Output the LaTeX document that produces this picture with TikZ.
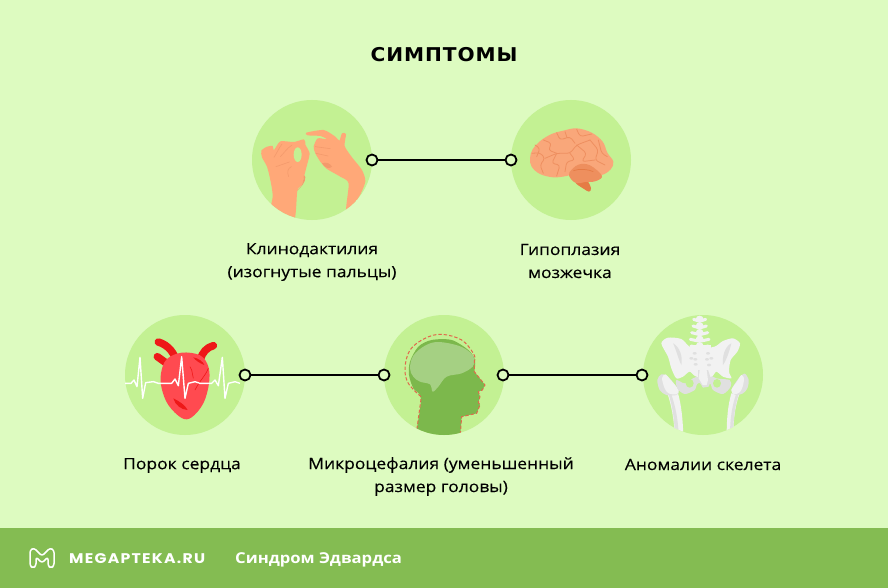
\documentclass[tikz,border=0pt]{standalone}
\usepackage{fontspec}
\setmainfont[FakeStretch=1.12,FakeBold=0.25]{Open Sans}
\newfontfamily\bandfont[FakeStretch=1.11]{Open Sans}
\newfontfamily\titlefont[FakeStretch=1.06,LetterSpace=5]{DejaVu Sans}
\newfontfamily\logofont[FakeStretch=1.12,LetterSpace=9]{Poppins}
\definecolor{bgcol}{HTML}{DDFBC0}
\definecolor{blobcol}{HTML}{C3F193}
\definecolor{bandcol}{HTML}{84BC52}
\definecolor{skincol}{HTML}{FFA878}
\definecolor{skindark}{HTML}{F39A6C}
\definecolor{braincol}{HTML}{F9A77A}
\definecolor{brainline}{HTML}{EE8F60}
\definecolor{cerebcol}{HTML}{EE8F5E}
\definecolor{stemcol}{HTML}{E57B45}
\definecolor{heartcol}{HTML}{FF4A50}
\definecolor{vesselcol}{HTML}{EE1818}
\definecolor{headcol}{HTML}{7CB84C}
\definecolor{headlight}{HTML}{A5D083}
\definecolor{dashcol}{HTML}{E0694C}
\definecolor{bonecol}{HTML}{F2F2F2}
\definecolor{bonedark}{HTML}{E0E0E0}
\tikzset{
 blob/.style={circle, fill=blobcol, minimum size=120pt, inner sep=0pt},
 ringdot/.style={circle, draw=black, fill=bgcol, line width=1.8pt, minimum size=11pt, inner sep=0pt},
 link/.style={draw=black, line width=1.8pt},
 caption/.style={font=\fontsize{15.6}{23}\selectfont, align=center, text=black},
 furrow/.style={draw=brainline, line width=.8pt, line cap=round, rounded corners=3pt},
 crease/.style={draw=skindark, line width=.6pt, line cap=round},
 vessel/.style={draw=vesselcol, line width=7.5pt, line cap=round, line join=round},
 cutline/.style={draw=dashcol, line width=1pt, dash pattern=on 3.4pt off 2pt}
}
\begin{document}
\begin{tikzpicture}[x=1pt, y=-1pt, line join=round]
 \useasboundingbox (0,0) rectangle (888,588);
 \fill[bgcol] (0,0) rectangle (888,588);
 \fill[bandcol] (0,528) rectangle (888,588);
 \node (title) at (444,55) {\titlefont\fontsize{19}{24}\selectfont\bfseries СИМПТОМЫ};
 \foreach \n/\x/\y in {hands/312/160, brain/571/160, heart/185/375, head/444/375, pelvis/703/375}{
 \node[blob] (\n) at (\x,\y) {};}
 % hands
 \begin{scope}
 \clip (hands.center) circle (60);
 \begin{scope}[shift={(252,120)}, scale=1/3]
 \fill[skincol] plot[smooth cycle, tension=.4] coordinates {(50,310) (62,230) (55,180) (45,140) (30,112) (28,92) (45,80) (62,78) (66,90) (85,64) (125,66) (155,58) (160,68) (160,74) (173,100) (165,135) (156,170) (150,195) (136,212) (124,310)};
 \fill[blobcol] (137,104) ellipse (12 and 22);
 \fill[skincol] plot[smooth cycle, tension=.4] coordinates {(163,38) (215,30) (250,50) (262,62) (270,40) (282,42) (278,78) (300,112) (330,150) (340,185) (320,232) (283,270) (290,190) (265,170) (225,147) (205,125) (190,100) (185,80) (197,55) (225,58) (205,48) (167,46)};
 \draw[crease] (72,140) -- (112,126);
 \draw[crease] (110,170) .. controls (104,155) and (108,145) .. (118,140);
 \draw[crease] (90,72) .. controls (80,85) and (74,100) .. (66,112);
 \draw[crease] (120,75) .. controls (105,85) and (95,100) .. (85,110);
 \draw[crease] (190,80) -- (235,86);
 \draw[crease] (192,100) -- (228,108);
 \fill[skindark] (210,130) .. controls (222,125) and (235,130) .. (240,140) .. controls (232,148) and (220,145) .. (210,130);
 \fill[skindark] (150,195) .. controls (155,180) and (155,170) .. (156,165) .. controls (165,170) and (160,190) .. (136,212) -- cycle;
 \end{scope}
 \end{scope}
 % brain
 \begin{scope}[shift={(520,120)}, scale=1/3]
 \fill[stemcol] plot[smooth cycle, tension=.5] coordinates {(170,175) (200,180) (213,205) (207,215) (192,207) (168,190)};
 \fill[braincol] plot[smooth cycle, tension=.6] coordinates {(30,115) (38,88) (62,62) (95,42) (130,32) (170,25) (215,38) (248,65) (262,98) (280,125) (272,148) (245,165) (210,160) (170,160) (140,168) (100,172) (60,162) (35,140)};
 \fill[cerebcol] plot[smooth cycle, tension=.6] coordinates {(148,158) (175,134) (210,136) (246,168) (225,184) (195,186) (170,190) (152,176)};
 \draw[furrow] (36,100) -- (60,98) -- (75,115) -- (60,135) -- (70,160);
 \draw[furrow] (75,115) -- (110,100) -- (150,100) -- (170,75) -- (210,60);
 \draw[furrow] (70,60) -- (95,70) -- (85,90) -- (110,100);
 \draw[furrow] (110,38) -- (120,60) -- (150,50) -- (165,70);
 \draw[furrow] (170,28) -- (180,50) -- (215,42);
 \draw[furrow] (110,100) -- (95,130) -- (120,135) -- (110,168);
 \draw[furrow] (150,100) -- (165,120) -- (140,125) -- (135,155);
 \draw[furrow] (170,75) -- (200,100) -- (185,125) -- (225,120);
 \draw[furrow] (210,60) -- (235,90) -- (225,120) -- (255,135);
 \draw[furrow] (235,60) -- (245,100) -- (262,110);
 \draw[furrow] (45,75) -- (60,85) -- (50,110);
 \draw[furrow] (135,35) -- (140,50);
 \draw[stemcol, line width=.7pt] (160,152) .. controls (180,145) and (205,148) .. (220,155);
 \end{scope}
 % heart
 \begin{scope}[shift={(125,330)}, scale=1/3]
 \draw[vessel] (100,36) .. controls (130,45) and (150,70) .. (155,100);
 \draw[vessel] (97,80) -- (128,102);
 \draw[vessel] (265,47) .. controls (245,52) and (232,68) .. (226,88);
 \fill[heartcol] plot[smooth cycle, tension=.6] coordinates {(108,130) (125,88) (170,68) (225,76) (250,110) (252,160) (235,220) (200,262) (170,264) (130,225) (110,175)};
 \fill[vesselcol] (205,82) .. controls (220,85) and (235,95) .. (238,105) .. controls (225,100) and (212,92) .. (205,82);
 \fill[vesselcol] (145,205) .. controls (165,215) and (180,225) .. (188,240) .. controls (170,240) and (150,225) .. (145,205);
 \draw[vesselcol, line width=.6pt] (250,115) .. controls (240,140) and (225,150) .. (210,180);
 \draw[vesselcol, line width=.6pt] (195,110) .. controls (205,125) and (200,135) .. (205,145);
 \draw[white, line width=1.4pt] plot coordinates {(0,160) (18,160) (27,150) (36,170) (45,82) (53,205) (62,158) (85,155) (100,160) (140,160) (150,147) (160,167) (170,80) (180,205) (190,160) (210,155) (225,160) (260,160) (270,150) (280,167) (292,82) (300,205) (310,160) (330,155) (345,160)};
 \end{scope}
 % head
 \begin{scope}
 \clip (head.center) circle (60);
 \begin{scope}[shift={(395,325)}, scale=1/3]
 \fill[headcol] plot[smooth, tension=.5] coordinates {(60,340) (78,222) (55,190) (42,150) (45,110) (70,65) (110,45) (170,45) (220,75) (240,105) (238,140)} -- (270,180) -- (262,195) -- (250,200) -- (255,215) -- (250,232) -- (255,240) -- (245,265) -- (200,275) -- (195,340) -- cycle;
 \fill[headlight] plot[smooth cycle, tension=.6] coordinates {(45,130) (55,92) (90,62) (130,51) (190,62) (225,82) (238,103) (233,125) (200,145) (155,155) (130,185) (113,200) (105,178) (75,170) (55,155)};
 \draw[cutline] plot[smooth, tension=.6] coordinates {(78,215) (40,175) (30,130) (45,75) (90,40) (140,28) (200,45) (235,85) (240,105)};
 \draw[cutline] (238,105) -- (238,140) -- (270,180) -- (262,195) -- (250,200) -- (255,215) -- (250,232) -- (255,240) -- (245,265) -- (200,275) -- (195,340);
 \draw[cutline] (78,222) -- (66,310);
 \end{scope}
 \end{scope}
 % pelvis
 \begin{scope}
 \clip (pelvis.center) circle (60);
 \begin{scope}[shift={(648,315)}, scale=1/3]
 \fill[bonecol] (58,235) .. controls (70,270) and (78,310) .. (80,360) -- (106,360) .. controls (104,310) and (100,270) .. (90,235) -- cycle;
 \fill[bonedark] (80,360) .. controls (80,310) and (72,270) .. (62,238) -- (70,238) .. controls (82,275) and (90,310) .. (92,360) -- cycle;
 \fill[bonecol] (275,235) .. controls (262,270) and (256,310) .. (256,360) -- (236,360) .. controls (236,310) and (240,270) .. (250,235) -- cycle;
 \fill[bonedark] (256,360) .. controls (255,310) and (262,270) .. (272,238) -- (264,238) .. controls (252,275) and (246,310) .. (246,360) -- cycle;
 \fill[bonedark] plot[smooth cycle, tension=.5] coordinates {(28,195) (40,178) (60,185) (92,225) (85,240) (55,240) (35,225)};
 \fill[bonecol] plot[smooth cycle, tension=.5] coordinates {(42,190) (52,178) (68,195) (92,225) (85,238) (62,235) (50,220)};
 \fill[bonedark] plot[smooth cycle, tension=.5] coordinates {(302,195) (290,176) (272,190) (250,225) (262,240) (285,235) (298,220)};
 \fill[bonecol] plot[smooth cycle, tension=.5] coordinates {(288,190) (280,180) (268,198) (250,225) (258,238) (275,232) (284,215)};
 \fill[bonedark] plot[smooth cycle, tension=.5] coordinates {(85,195) (110,205) (135,190) (175,175) (205,190) (245,195) (248,215) (225,237) (195,225) (185,205) (150,205) (140,225) (110,237) (88,220)};
 \fill[blobcol] (125,205) ellipse (12 and 13);
 \fill[blobcol] (207,205) ellipse (12 and 13);
 \fill[bonecol] plot[smooth cycle, tension=.45] coordinates {(40,85) (60,68) (100,72) (125,95) (160,100) (200,95) (225,78) (255,70) (276,85) (268,110) (248,135) (243,170) (250,190) (225,185) (205,170) (190,185) (145,185) (125,170) (105,185) (85,190) (70,160) (60,125)};
 \fill[bonedark] (75,85) .. controls (95,95) and (105,125) .. (100,150) .. controls (90,130) and (85,105) .. (75,85);
 \fill[bonedark] (250,85) .. controls (230,95) and (222,125) .. (225,150) .. controls (238,130) and (245,105) .. (250,85);
 \fill[bonedark] (150,165) -- (180,165) -- (190,195) -- (182,215) -- (165,218) -- (150,195) -- cycle;
 \foreach \px/\py in {140/115, 130/130, 142/133, 143/148, 180/115, 190/130, 177/133, 183/150}{
 \fill[bonedark] (\px,\py) ellipse (6 and 4);}
 \fill[bonecol] (155,165) -- (176,165) -- (180,195) -- (176,210) -- (164,210) -- (152,190) -- cycle;
 \foreach \py/\pw in {5/18, 25/20, 45/24, 65/28, 85/26}{
 \draw[bonecol, line width=3pt, line cap=round] (155-\pw,\py+8) -- (155,\py+14) -- (155+\pw,\py+8);
 \fill[bonecol] (155,\py+6) ellipse (11 and 9);}
 \fill[bonecol] (125,90) rectangle (190,100);
 \end{scope}
 \end{scope}
 % rings
 \foreach \n/\x/\y in {handsdot/372/160, braindot/511/160, heartdot/245/375, headldot/384/375, headrdot/503/375, pelvisdot/642/375}{
 \node[ringdot] (\n) at (\x,\y) {};}
 \draw[link] (handsdot) -- (braindot);
 \draw[link] (heartdot) -- (headldot);
 \draw[link] (headrdot) -- (pelvisdot);
 % captions
 \node[caption] (handstext) at (312,262) {Клинодактилия\\(изогнутые пальцы)};
 \node[caption] (braintext) at (570,261) {Гипоплазия\\мозжечка};
 \node[caption] (hearttext) at (182,465.5) {Порок сердца};
 \node[caption] (headtext) at (441,476.5) {Микроцефалия (уменьшенный\\размер головы)};
 \node[caption] (pelvistext) at (703,464.5) {Аномалии скелета};
 % band
 \draw[white, line width=1.5pt, rounded corners=2.5pt] (34,548) -- (30,550) -- (30,566) -- (33,568) -- (36,566) -- (36,557) -- (42,563) -- (48,557) -- (48,566) -- (51,568) -- (54,566) -- (54,550) -- (50,548) -- (42,556) -- cycle;
 \node[anchor=west, inner sep=0pt, text=white] (logotext) at (69,559) {\logofont\fontsize{14}{16}\selectfont\bfseries MEGAPTEKA.RU};
 \node[anchor=west, inner sep=0pt, text=white] (bandtext) at (235,559.5) {\bandfont\fontsize{15}{18}\selectfont\bfseries Синдром Эдвардса};
\end{tikzpicture}
\end{document}
